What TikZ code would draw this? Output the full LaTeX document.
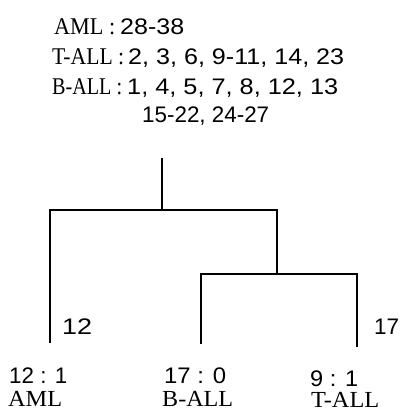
\documentclass[tikz,border=0pt]{standalone}
\usepackage{fontspec}
\setmainfont{Liberation Serif}
\newfontfamily\numf[WordSpace=1.5]{Liberation Sans}
\newfontfamily\numb{Liberation Sans}
\newcommand{\fitw}[2]{\resizebox{#1}{\height}{#2}}
\begin{document}
\begin{tikzpicture}[x=1pt,y=-1pt,
  word/.style={inner sep=0pt,anchor=base west,font=\fontsize{24}{28}\selectfont},
  num/.style={inner sep=0pt,anchor=base west,font=\fontsize{22.5}{26}\selectfont\numf},
  numb/.style={inner sep=0pt,anchor=base west,font=\fontsize{22.5}{26}\selectfont\numb},
  leaf/.style={inner sep=0pt,anchor=base west,font=\fontsize{23}{27}\selectfont},
  branch/.style={line width=1.6pt,line cap=butt}]
\useasboundingbox (0,0) rectangle (400,412);
% header
\node[word] (h1w) at (54,35) {\fitw{61pt}{AML :}};
\node[num]  (h1n) at (120,35) {\fitw{64pt}{28-38}};
\node[word] (h2w) at (52,65) {\fitw{72pt}{T-ALL :}};
\node[num]  (h2n) at (128,65) {\fitw{216pt}{2, 3, 6, 9-11, 14, 23}};
\node[word] (h3w) at (52,94) {\fitw{70pt}{B-ALL :}};
\node[num]  (h3n) at (127,94) {\fitw{211pt}{1, 4, 5, 7, 8, 12, 13}};
\node[num]  (h4)  at (142,122) {\fitw{127pt}{15-22, 24-27}};
% tree
\coordinate (r0) at (162,158);
\coordinate (r1) at (162,210);
\coordinate (l1) at (50,210);
\coordinate (l2) at (50,343);
\coordinate (m1) at (277,210);
\coordinate (m2) at (277,274);
\coordinate (a1) at (201,274);
\coordinate (a2) at (201,344);
\coordinate (b1) at (357,274);
\coordinate (b2) at (357,347);
\draw[branch] (r0) -- (r1);
\draw[branch] (l2) -- (l1) -- (m1) -- (m2);
\draw[branch] (a2) -- (a1) -- (b1) -- (b2);
% counts
\node[numb] (c12) at (62,334) {\fitw{30pt}{12}};
\node[numb] (c17) at (374,334) {\fitw{25pt}{17}};
% leaves
\node[numb] (n1) at (9,383) {\fitw{58pt}{12 : 1}};
\node[leaf] (t1) at (8,406) {\fitw{54pt}{AML}};
\node[numb] (n2) at (164,383) {\fitw{62pt}{17 : 0}};
\node[leaf] (t2) at (162,406) {\fitw{71pt}{B-ALL}};
\node[numb] (n3) at (310,386) {\fitw{48pt}{9 : 1}};
\node[leaf] (t3) at (311,407) {\fitw{68pt}{T-ALL}};
\end{tikzpicture}
\end{document}
